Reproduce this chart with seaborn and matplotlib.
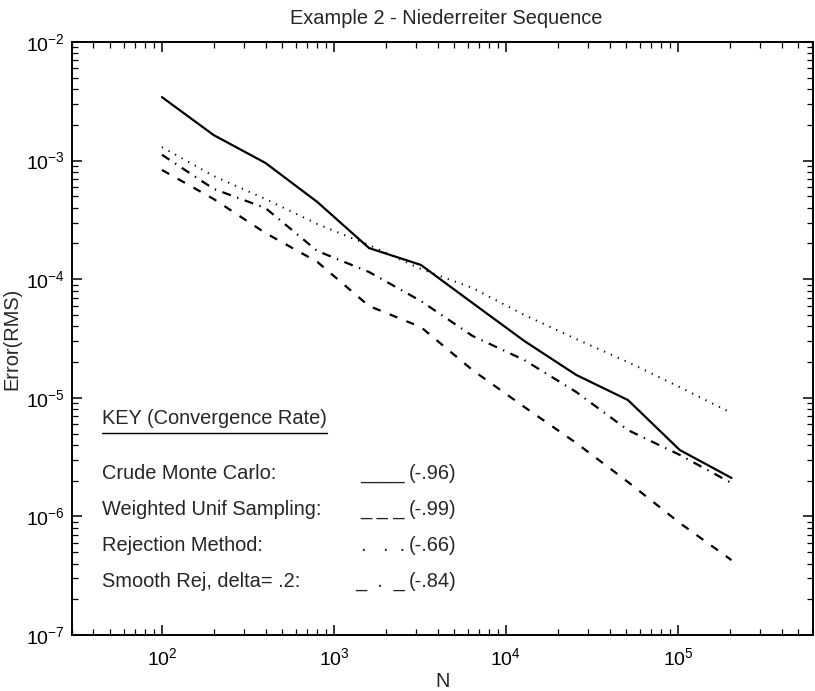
import numpy as np
import pandas as pd
import matplotlib
matplotlib.use("Agg")
import matplotlib.pyplot as plt
import seaborn as sns
from matplotlib.ticker import LogLocator, LogFormatterSciNotation, NullFormatter
from matplotlib.lines import Line2D

# ---------------- data ----------------
N = [100, 200, 400, 800, 1600, 3200, 6400, 12800, 25600, 51200, 102400, 204800]
crude = [3.43e-3, 1.64e-3, 9.55e-4, 4.48e-4, 1.83e-4, 1.32e-4, 6.29e-5,
         3.01e-5, 1.56e-5, 9.57e-6, 3.63e-6, 2.11e-6]
weighted = [8.34e-4, 4.74e-4, 2.45e-4, 1.40e-4, 5.94e-5, 3.95e-5, 1.71e-5,
            8.36e-6, 4.16e-6, 1.95e-6, 8.8e-7, 4.28e-7]
rejection = [1.30e-3, 7.41e-4, 4.74e-4, 2.92e-4, 1.94e-4, 1.22e-4, 8.43e-5,
             4.99e-5, 3.13e-5, 2.0e-5, 1.23e-5, 7.45e-6]
smooth = [1.12e-3, 5.77e-4, 3.98e-4, 1.73e-4, 1.15e-4, 6.55e-5, 3.32e-5,
          2.08e-5, 1.12e-5, 5.34e-6, 3.30e-6, 1.91e-6]

key_labels = ["Crude Monte Carlo:", "Weighted Unif Sampling:",
              "Rejection Method:", "Smooth Rej, delta= .2:"]
key_marks = ["____", "_ _ _", ".   .  .", "_  .  _"]
key_rates = ["(-.96)", "(-.99)", "(-.66)", "(-.84)"]

title = "Example 2 - Niederreiter Sequence"

# ---------------- style ----------------
sns.set_style("ticks")
plt.rcParams['font.family'] = ['Liberation Sans', 'DejaVu Sans']
plt.rcParams['mathtext.fontset'] = 'custom'
plt.rcParams['mathtext.rm'] = 'Liberation Sans'
plt.rcParams['mathtext.it'] = 'Liberation Sans:italic'
plt.rcParams['mathtext.bf'] = 'Liberation Sans:bold'
plt.rcParams['lines.scale_dashes'] = False

W, H = 815, 691
fig = plt.figure(figsize=(W / 100, H / 100), dpi=100)
fig.patch.set_facecolor('white')
ax_l, ax_r, ax_t, ax_b = 72, 813, 42, 635
ax = fig.add_axes([ax_l / W, 1 - ax_b / H, (ax_r - ax_l) / W, (ax_b - ax_t) / H])
ax.set_facecolor('white')

df = pd.DataFrame({"N": N, "crude": crude, "weighted": weighted,
                   "rejection": rejection, "smooth": smooth})

styles = {
    "crude": dict(linestyle='-', linewidth=1.6),
    "weighted": dict(linestyle=(0, (6.0, 7.0)), linewidth=1.6),
    "rejection": dict(linestyle=(0, (0.9, 4.5)), linewidth=1.4),
    "smooth": dict(linestyle=(0, (6.5, 4.8, 1.0, 4.8)), linewidth=1.6),
}
for col, st in styles.items():
    sns.lineplot(data=df, x="N", y=col, ax=ax, color='black', **st)

ax.set_xscale('log')
ax.set_yscale('log')
ax.set_xlim(30, 10 ** 5.785)
ax.set_ylim(1e-7, 1e-2)

ax.xaxis.set_major_locator(LogLocator(base=10, numticks=20))
ax.yaxis.set_major_locator(LogLocator(base=10, numticks=20))
ax.xaxis.set_minor_locator(LogLocator(base=10, subs=np.arange(2, 10), numticks=20))
ax.yaxis.set_minor_locator(LogLocator(base=10, subs=np.arange(2, 10), numticks=20))
ax.xaxis.set_major_formatter(LogFormatterSciNotation())
ax.yaxis.set_major_formatter(LogFormatterSciNotation())
ax.xaxis.set_minor_formatter(NullFormatter())
ax.yaxis.set_minor_formatter(NullFormatter())

ax.tick_params(which='both', direction='in', top=True, right=True,
               color='black', labelcolor='black')
ax.tick_params(which='major', length=7, width=1.1, labelsize=14)
ax.tick_params(which='minor', length=4, width=0.9)
ax.tick_params(axis='x', which='major', pad=9)
ax.tick_params(axis='y', which='major', pad=5)
for sp in ax.spines.values():
    sp.set_visible(True)
    sp.set_linewidth(1.4)
    sp.set_color('black')

ax.set_xlabel("N", fontsize=14.4, va='top')
ax.set_ylabel("Error(RMS)", fontsize=14.4)
ax.xaxis.set_label_coords(0.5, (ax_b - 672) / (ax_b - ax_t))
ax.yaxis.set_label_coords((21 - ax_l) / (ax_r - ax_l), 0.5)

fs = 14.4
fig.text(446 / W, 1 - 24 / H, title, ha='center', va='baseline', fontsize=fs)

fig.text(102 / W, 1 - 424 / H, "KEY (Convergence Rate)", ha='left',
         va='baseline', fontsize=fs)
fig.add_artist(Line2D([102 / W, 327 / W], [1 - 433 / H, 1 - 433 / H],
                      color='black', linewidth=1.0, transform=fig.transFigure))

baselines = [479, 515, 551, 587]
for lab, mk, rt, yb in zip(key_labels, key_marks, key_rates, baselines):
    fig.text(102 / W, 1 - yb / H, lab, ha='left', va='baseline', fontsize=fs)
    fig.text(405 / W, 1 - yb / H, mk, ha='right', va='baseline', fontsize=fs)
    fig.text(409 / W, 1 - yb / H, rt, ha='left', va='baseline', fontsize=fs)

fig.savefig("out.png", dpi=100, facecolor='white')
